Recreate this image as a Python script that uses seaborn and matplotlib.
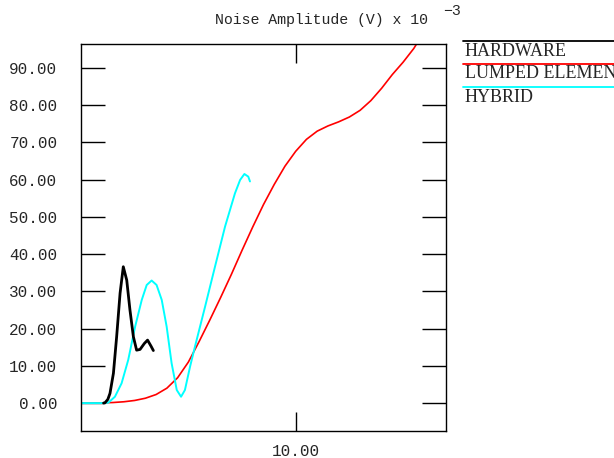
import matplotlib
matplotlib.use("Agg")
import matplotlib.pyplot as plt
from matplotlib.lines import Line2D
import seaborn as sns
import pandas as pd

# ---------------- data ----------------
series_names = ["HARDWARE", "LUMPED ELEMENT", "HYBRID"]
series_colors = ["#000000", "#ff0000", "#00ffff"]

hw_x = [1.05, 1.12, 1.25, 1.35, 1.51, 1.66, 1.82, 1.97, 2.13, 2.28, 2.44, 2.59,
        2.75, 2.95, 3.10, 3.26, 3.37]
hw_y = [0.0, 0.1, 1.0, 2.6, 8.0, 17.8, 29.5, 36.6, 33.0, 25.0, 17.8, 14.2,
        14.4, 16.0, 16.9, 15.3, 14.1]

lump_x = [0.0, 1.0, 1.5, 2.0, 2.5, 3.0, 3.5, 4.0, 4.5, 5.0, 5.5, 6.0, 6.5, 7.0,
          7.5, 8.0, 8.5, 9.0, 9.5, 10.0, 10.5, 11.0, 11.5, 12.0, 12.5, 13.0,
          13.5, 14.0, 14.5, 15.0, 15.5, 15.8]
lump_y = [0.0, 0.05, 0.15, 0.35, 0.7, 1.3, 2.3, 4.0, 6.8, 11.0, 16.5, 22.3,
          28.3, 34.5, 41.0, 47.3, 53.3, 58.7, 63.6, 67.6, 70.8, 73.0, 74.4,
          75.5, 76.8, 78.6, 81.2, 84.5, 88.2, 91.5, 95.2, 98.0]

hyb_x = [0.0, 1.0, 1.27, 1.58, 1.89, 2.20, 2.52, 2.83, 3.06, 3.29, 3.52, 3.76,
         3.99, 4.22, 4.46, 4.66, 4.84, 5.08, 5.31, 5.78, 6.24, 6.71, 7.17,
         7.41, 7.61, 7.79, 7.87]
hyb_y = [0.0, 0.0, 0.1, 1.7, 5.3, 11.6, 20.5, 27.7, 31.7, 32.9, 31.7, 27.7,
         20.5, 10.7, 3.5, 1.7, 3.5, 9.8, 15.2, 25.9, 36.6, 47.4, 56.3, 59.9,
         61.5, 60.8, 59.5]

y_ticks = [0, 10, 20, 30, 40, 50, 60, 70, 80, 90]
x_ticks = [10]
title_text = "Noise Amplitude (V) x 10"
title_exp = "\u22123"

# ---------------- figure ----------------
sns.set_style("white")
plt.rcParams["font.family"] = ["Liberation Mono", "DejaVu Sans"]

W, H = 614, 458
fig = plt.figure(figsize=(W / 100, H / 100), dpi=100)
ax = fig.add_axes([81 / W, 1 - 431 / H, 365 / W, 387 / H])

df_lump = pd.DataFrame({"x": lump_x, "y": lump_y})
df_hyb = pd.DataFrame({"x": hyb_x, "y": hyb_y})
df_hw = pd.DataFrame({"x": hw_x, "y": hw_y})

sns.lineplot(data=df_lump, x="x", y="y", color=series_colors[1], lw=1.2, ax=ax)
sns.lineplot(data=df_hyb, x="x", y="y", color=series_colors[2], lw=1.4, ax=ax)
sns.lineplot(data=df_hw, x="x", y="y", color=series_colors[0], lw=2.0, ax=ax)

ax.set_xlim(0, 17)
ax.set_ylim(-7.5, 96.4)
ax.set_xlabel("")
ax.set_ylabel("")

ax.set_yticks(y_ticks)
ax.set_yticklabels([f"{v:.2f}" for v in y_ticks])
ax.set_xticks(x_ticks)
ax.set_xticklabels([f"{v:.2f}" for v in x_ticks])

ax.tick_params(axis="y", direction="in", length=17, width=1.0, left=True,
               right=True, labelleft=True, labelright=False, pad=17,
               labelsize=11.5, color="black")
ax.tick_params(axis="x", direction="in", length=14, width=1.0, bottom=True,
               top=True, labelbottom=True, labeltop=False, pad=9,
               labelsize=11.5, color="black")
ax.yaxis.get_major_ticks()[0].tick2line.set_color(series_colors[1])

for sp in ax.spines.values():
    sp.set_visible(True)
    sp.set_color("black")
    sp.set_linewidth(1.0)

# title with exponent
fig.text(215 / W, 1 - 20 / H, title_text, ha="left", va="center",
         fontsize=10.7, family=["Liberation Mono", "DejaVu Sans"])
fig.text(443 / W, 1 - 11 / H, title_exp, ha="left", va="center",
         fontsize=10.7, family=["Liberation Mono", "DejaVu Sans"])

# legend (outside right, clipped at figure edge)
line_ys = [41, 64, 87]
text_ys = [51, 74, 98]
for name, col, ly, ty in zip(series_names, series_colors, line_ys, text_ys):
    fig.add_artist(Line2D([463 / W, 1.02], [1 - ly / H, 1 - ly / H],
                          transform=fig.transFigure, color=col, lw=1.3))
    fig.text(465 / W, 1 - ty / H, name, ha="left", va="center",
             fontsize=13, family=["Liberation Serif", "DejaVu Serif"])

fig.savefig("out.png", dpi=100)
